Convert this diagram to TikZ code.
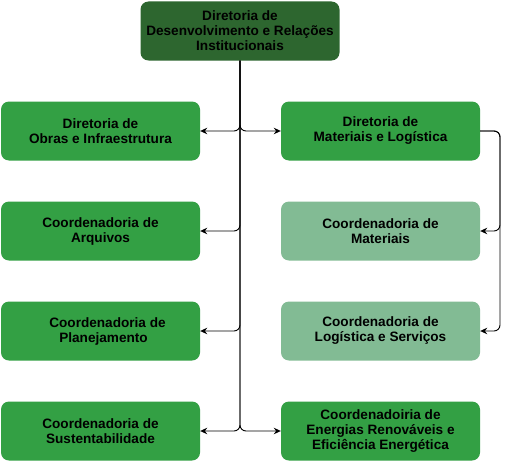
\documentclass[tikz,border=0pt]{standalone}
\usepackage{fontspec}
\setmainfont{Liberation Sans}
\usetikzlibrary{arrows.meta}
\definecolor{topgreen}{RGB}{45,102,47}
\definecolor{midgreen}{RGB}{51,160,68}
\definecolor{lightgreen}{RGB}{130,187,148}
\tikzset{
  box/.style={draw=none, rounded corners=8pt, minimum width=199pt, minimum height=59pt,
    align=center, font=\fontsize{13.6}{15}\selectfont\bfseries, inner sep=0pt},
  topbox/.style={box, fill=topgreen},
  midbox/.style={box, fill=midgreen},
  lightbox/.style={box, fill=lightgreen},
  conn/.style={draw=black, line width=0.9pt, rounded corners=6pt, -{Stealth[length=7pt,width=6.5pt]}}
}
\begin{document}
\begin{tikzpicture}[x=1pt,y=-1pt]
\useasboundingbox (0,0) rectangle (508,460);
\node[topbox] (top) at (240,31) {Diretoria de\\Desenvolvimento e Relações\\Institucionais};
\node[midbox] (l1) at (100.5,131) {Diretoria de\\Obras e Infraestrutura};
\node[midbox] (l2) at (100.5,231) {Coordenadoria de\\Arquivos};
\node[midbox] (l3) at (100.5,331) {\hspace*{14pt}Coordenadoria de\\\hspace*{6pt}Planejamento};
\node[midbox] (l4) at (100.5,431) {Coordenadoria de\\Sustentabilidade};
\node[midbox] (r1) at (380.5,131) {Diretoria de\\Materiais e Logística};
\node[lightbox] (r2) at (380.5,231) {Coordenadoria de\\Materiais};
\node[lightbox] (r3) at (380.5,331) {Coordenadoria de\\Logística e Serviços};
\node[midbox] (r4) at (380.5,431) {Coordenadoiria de\\Energias Renováveis e\\Eficiência Energética};
\draw[conn] (top.south) |- (l1.east);
\draw[conn] (top.south) |- (r1.west);
\draw[conn] (top.south) |- (l2.east);
\draw[conn] (top.south) |- (l3.east);
\draw[conn] (top.south) |- (l4.east);
\draw[conn] (top.south) |- (r4.west);
\coordinate (rb) at (500,131);
\draw[conn] (r1.east) -- (rb) |- (r2.east);
\draw[conn] (r1.east) -- (rb) |- (r3.east);
\end{tikzpicture}
\end{document}
